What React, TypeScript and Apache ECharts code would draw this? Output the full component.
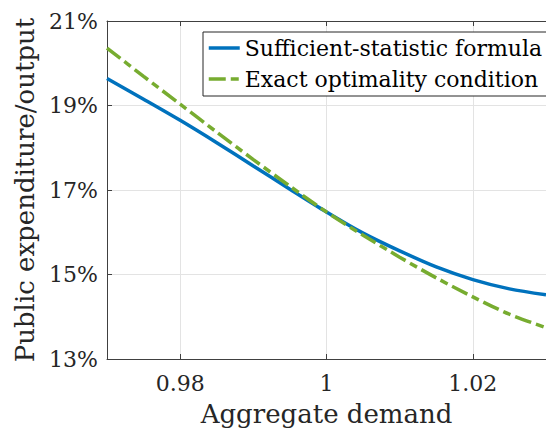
import React, { useEffect, useRef } from "react";
import * as echarts from "echarts";

const xValues = [0.97, 0.975, 0.98, 0.985, 0.99, 0.995, 1.0, 1.005, 1.01, 1.015, 1.02, 1.025, 1.03];
const sufficientStatistic = [19.64, 19.15, 18.65, 18.12, 17.57, 17.02, 16.48, 15.98, 15.56, 15.18, 14.88, 14.66, 14.52];
const exactOptimality = [20.36, 19.69, 19.03, 18.37, 17.72, 17.09, 16.48, 15.93, 15.41, 14.92, 14.47, 14.06, 13.74];
const xTicks = [0.98, 1, 1.02];
const yTicks = [13, 15, 17, 19, 21];
const seriesNames = ["Sufficient-statistic formula", "Exact optimality condition"];

const FONT = "DejaVu Serif";
const TEXT = "#262626";
const AXIS = "#404040";
const GRIDC = "#e3e3e3";

export default function App() {
  const ref = useRef<HTMLDivElement>(null);
  useEffect(() => {
    document.body.style.margin = "0";
    const chart = echarts.init(ref.current!, null, { renderer: "svg" });
    const pairs = (ys: number[]) => xValues.map((x, i) => [x, ys[i]]);
    chart.setOption({
      animation: false,
      backgroundColor: "#ffffff",
      grid: { left: 107, top: 21, width: 445.5, height: 340, containLabel: false },
      legend: {
        data: seriesNames,
        orient: "vertical",
        left: 203,
        top: 32,
        itemWidth: 31,
        itemHeight: 14,
        itemGap: 9,
        padding: [5, 6, 6, 4],
        borderColor: "#262626",
        borderWidth: 1,
        backgroundColor: "#ffffff",
        itemStyle: { opacity: 0 },
        lineStyle: { width: 3.5 },
        textStyle: { fontFamily: FONT, fontSize: 22, color: "#000", lineHeight: 22 },
      },
      xAxis: [
        {
          type: "value",
          min: 0.97,
          max: 1.03,
          position: "bottom",
          name: "Aggregate demand",
          nameLocation: "middle",
          nameGap: 42,
          nameTextStyle: { fontFamily: FONT, fontSize: 26, color: TEXT },
          axisLine: { show: true, onZero: false, lineStyle: { color: AXIS, width: 1 } },
          axisTick: { show: true, inside: true, length: 5, customValues: xTicks, lineStyle: { color: AXIS } },
          axisLabel: {
            customValues: xTicks,
            margin: 13,
            fontFamily: FONT,
            fontSize: 22,
            color: TEXT,
            formatter: (v: number) => String(Number(v.toFixed(2))),
          },
          splitLine: { show: true, lineStyle: { color: GRIDC, width: 1 } },
        },
        {
          type: "value",
          min: 0.97,
          max: 1.03,
          position: "top",
          axisLine: { show: true, onZero: false, lineStyle: { color: AXIS, width: 1 } },
          axisTick: { show: true, inside: true, length: 5, customValues: xTicks, lineStyle: { color: AXIS } },
          axisLabel: { show: false },
          splitLine: { show: false },
        },
      ],
      yAxis: [
        {
          type: "value",
          min: 13,
          max: 21,
          name: "Public expenditure/output",
          nameLocation: "middle",
          nameGap: 69,
          nameTextStyle: { fontFamily: FONT, fontSize: 26, color: TEXT },
          axisLine: { show: true, onZero: false, lineStyle: { color: AXIS, width: 1 } },
          axisTick: { show: true, inside: true, length: 5, customValues: yTicks, lineStyle: { color: AXIS } },
          axisLabel: {
            customValues: yTicks,
            margin: 9,
            fontFamily: FONT,
            fontSize: 22,
            color: TEXT,
            formatter: (v: number) => `${v}%`,
          },
          splitLine: { show: true, lineStyle: { color: GRIDC, width: 1 } },
        },
      ],
      series: [
        {
          name: seriesNames[0],
          type: "line",
          data: pairs(sufficientStatistic),
          smooth: 0.3,
          symbol: "none",
          showSymbol: false,
          lineStyle: { color: "#0072BD", width: 3.5 },
          itemStyle: { color: "#0072BD" },
          z: 3,
        },
        {
          name: seriesNames[1],
          type: "line",
          data: pairs(exactOptimality),
          smooth: 0.3,
          symbol: "none",
          showSymbol: false,
          lineStyle: { color: "#77AC30", width: 3.5, type: [17, 5, 8, 5] },
          itemStyle: { color: "#77AC30" },
          z: 4,
        },
      ],
    });
    return () => chart.dispose();
  }, []);
  return <div ref={ref} style={{ position: "absolute", left: 0, top: 0, width: 546, height: 432 }} />;
}
